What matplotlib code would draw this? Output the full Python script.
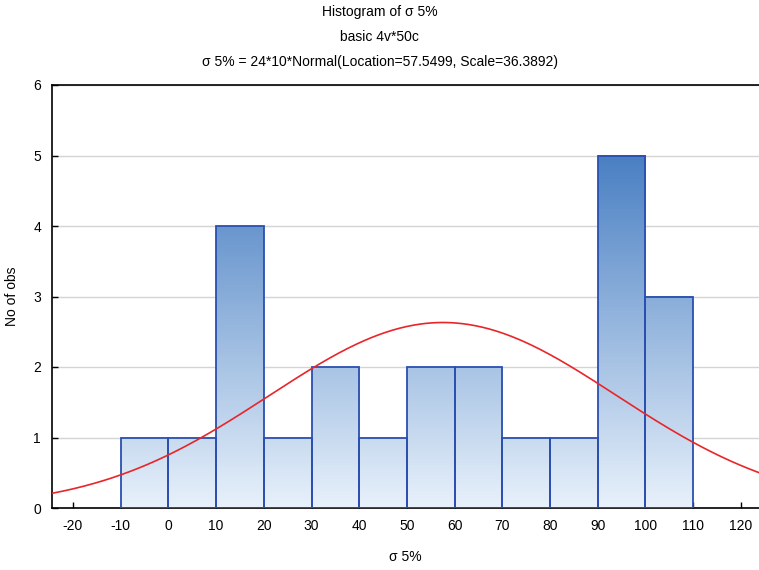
import numpy as np
import matplotlib
matplotlib.use("Agg")
import matplotlib.pyplot as plt
from matplotlib.colors import LinearSegmentedColormap
from matplotlib.patches import Rectangle

bin_edges = [-10, 0, 10, 20, 30, 40, 50, 60, 70, 80, 90, 100, 110]
counts = [1, 1, 4, 1, 2, 1, 2, 2, 1, 1, 5, 3]
n_obs = 24
bin_width = 10
loc = 57.5499
scale = 36.3892
xticks = [-20, -10, 0, 10, 20, 30, 40, 50, 60, 70, 80, 90, 100, 110, 120]
yticks = [0, 1, 2, 3, 4, 5, 6]

plt.rcParams['font.family'] = ['Liberation Sans', 'DejaVu Sans']
plt.rcParams['axes.unicode_minus'] = False

fig = plt.figure(figsize=(7.59, 5.70), dpi=100)
ax = fig.add_axes([52/759, 62/570, 707/759, 423/570])
ax.set_xlim(-24.4, 123.8)
ax.set_ylim(0, 6)

cmap = LinearSegmentedColormap.from_list("g", ["#e8f1fb", "#4a80c3"])
for i, c in enumerate(counts):
    x0, x1 = bin_edges[i], bin_edges[i + 1]
    grad = np.linspace(0, c, 100).reshape(-1, 1)
    ax.imshow(grad, extent=[x0, x1, 0, c], origin='lower', aspect='auto',
              cmap=cmap, vmin=0, vmax=5, zorder=2, interpolation='bilinear')
    ax.add_patch(Rectangle((x0, 0), x1 - x0, c, fill=False,
                           edgecolor='#2a4fb0', linewidth=1.3, zorder=3))

xs = np.linspace(-24.4, 123.8, 400)
ys = n_obs * bin_width * np.exp(-0.5 * ((xs - loc) / scale) ** 2) / (scale * np.sqrt(2 * np.pi))
ax.plot(xs, ys, color='#e8262a', linewidth=1.2, zorder=4)

ax.set_xlim(-24.4, 123.8)
ax.set_ylim(0, 6)
ax.set_xticks(xticks)
ax.set_yticks(yticks)
ax.tick_params(direction='in', length=4, labelsize=10, width=1)
ax.tick_params(axis='x', pad=8)
ax.tick_params(axis='y', pad=8)
ax.yaxis.grid(True, color='#d4d4d4', linewidth=1)
ax.set_axisbelow(True)
ax.spines['right'].set_visible(False)
for s in ['left', 'bottom', 'top']:
    ax.spines[s].set_linewidth(1.2)
ax.set_xlabel('σ 5%', fontsize=10, labelpad=12)
ax.set_ylabel('No of obs', fontsize=10, labelpad=10)

fig.text(0.5, 1 - 12/570, 'Histogram of σ 5%', ha='center', va='center', fontsize=10)
fig.text(0.5, 1 - 37/570, 'basic 4v*50c', ha='center', va='center', fontsize=10)
fig.text(0.5, 1 - 62/570, 'σ 5% = 24*10*Normal(Location=57.5499, Scale=36.3892)',
         ha='center', va='center', fontsize=10)

fig.savefig('out.png', dpi=100)
